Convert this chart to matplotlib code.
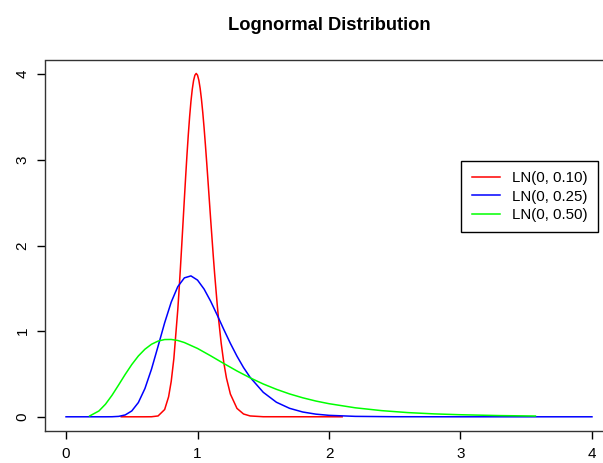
import matplotlib
matplotlib.use("Agg")
import matplotlib.pyplot as plt

plt.rcParams['font.family'] = ['Liberation Sans', 'DejaVu Sans']

# densities
red_x = [0.42, 0.60, 0.65, 0.70, 0.75, 0.78, 0.80, 0.82, 0.85, 0.86,
         0.87, 0.88, 0.89, 0.90, 0.91, 0.92, 0.93, 0.94, 0.95, 0.96,
         0.97, 0.98, 0.99, 1.00, 1.01, 1.02, 1.03, 1.04, 1.05, 1.06,
         1.07, 1.08, 1.10, 1.12, 1.13, 1.15, 1.16, 1.18, 1.20, 1.22,
         1.25, 1.30, 1.35, 1.40, 1.50, 2.10]
red_y = [0, 0, 0.0006, 0.0099, 0.0848, 0.2335, 0.414, 0.679, 1.253, 1.487,
         1.739, 2.003, 2.273, 2.545, 2.810, 3.063, 3.296, 3.504, 3.682, 3.823,
         3.926, 3.988, 4.009, 3.989, 3.930, 3.835, 3.707, 3.552, 3.373, 3.175,
         2.965, 2.747, 2.303, 1.874, 1.673, 1.306, 1.143, 0.859, 0.631, 0.453,
         0.265, 0.0982, 0.0327, 0.0099, 0.0007, 0]

blue_x = [0, 0.30, 0.35, 0.40, 0.45, 0.50, 0.55, 0.60, 0.65, 0.70,
          0.75, 0.80, 0.85, 0.90, 0.95, 1.00, 1.05, 1.10, 1.15, 1.20,
          1.25, 1.30, 1.35, 1.40, 1.50, 1.60, 1.70, 1.80, 1.90, 2.00,
          2.20, 2.50, 3.00, 4.00]
blue_y = [0, 0, 0.0007, 0.0048, 0.0216, 0.0683, 0.1663, 0.3298, 0.5563, 0.824,
          1.0975, 1.339, 1.520, 1.622, 1.645, 1.596, 1.491, 1.349, 1.187, 1.019,
          0.857, 0.708, 0.575, 0.461, 0.286, 0.170, 0.099, 0.056, 0.031, 0.017,
          0.005, 0.0008, 0, 0]

green_x = [0.18, 0.25, 0.30, 0.35, 0.40, 0.45, 0.50, 0.55, 0.60, 0.65,
           0.70, 0.75, 0.80, 0.85, 0.90, 1.00, 1.10, 1.20, 1.30, 1.40,
           1.50, 1.60, 1.70, 1.80, 1.90, 2.00, 2.20, 2.40, 2.60, 2.80,
           3.00, 3.30, 3.57]
green_y = [0.01, 0.068, 0.147, 0.252, 0.372, 0.495, 0.610, 0.710, 0.789, 0.847,
           0.884, 0.902, 0.903, 0.891, 0.867, 0.798, 0.712, 0.622, 0.535, 0.455,
           0.383, 0.321, 0.267, 0.222, 0.184, 0.153, 0.105, 0.072, 0.049, 0.034,
           0.024, 0.014, 0.009]

labels = ["LN(0, 0.10)", "LN(0, 0.25)", "LN(0, 0.50)"]
ticks = [0, 1, 2, 3, 4]

fig = plt.figure(figsize=(6.03, 4.63), dpi=100)
ax = fig.add_axes([45/603, 1 - 430.5/463, 568/603, 370/463])

ax.plot(red_x, red_y, color='#FF0000', lw=1.1, label=labels[0])
ax.plot(blue_x, blue_y, color='#0000FF', lw=1.1, label=labels[1])
ax.plot(green_x, green_y, color='#00FF00', lw=1.1, label=labels[2])

ax.set_xlim(-0.16, 4.16)
ax.set_ylim(-0.16, 4.16)
ax.set_xticks(ticks)
ax.set_yticks(ticks)
ax.tick_params(direction='out', length=6, width=1, labelsize=11, pad=6)
ax.tick_params(axis='y', pad=5)
plt.setp(ax.get_yticklabels(), rotation=90, va='center')
for s in ax.spines.values():
    s.set_color('#333333')
    s.set_linewidth(1.0)

ax.set_title("Lognormal Distribution", fontsize=13.2, fontweight='bold', pad=22)

leg = ax.legend(loc='upper left', bbox_to_anchor=(461/603, 1 - 161/463),
                bbox_transform=fig.transFigure, borderaxespad=0,
                fontsize=10.8, fancybox=False, framealpha=1, edgecolor='black',
                handlelength=1.9, handletextpad=0.8, borderpad=0.7,
                labelspacing=0.28)
leg.get_frame().set_linewidth(1.0)

fig.savefig("out.png", dpi=100)
